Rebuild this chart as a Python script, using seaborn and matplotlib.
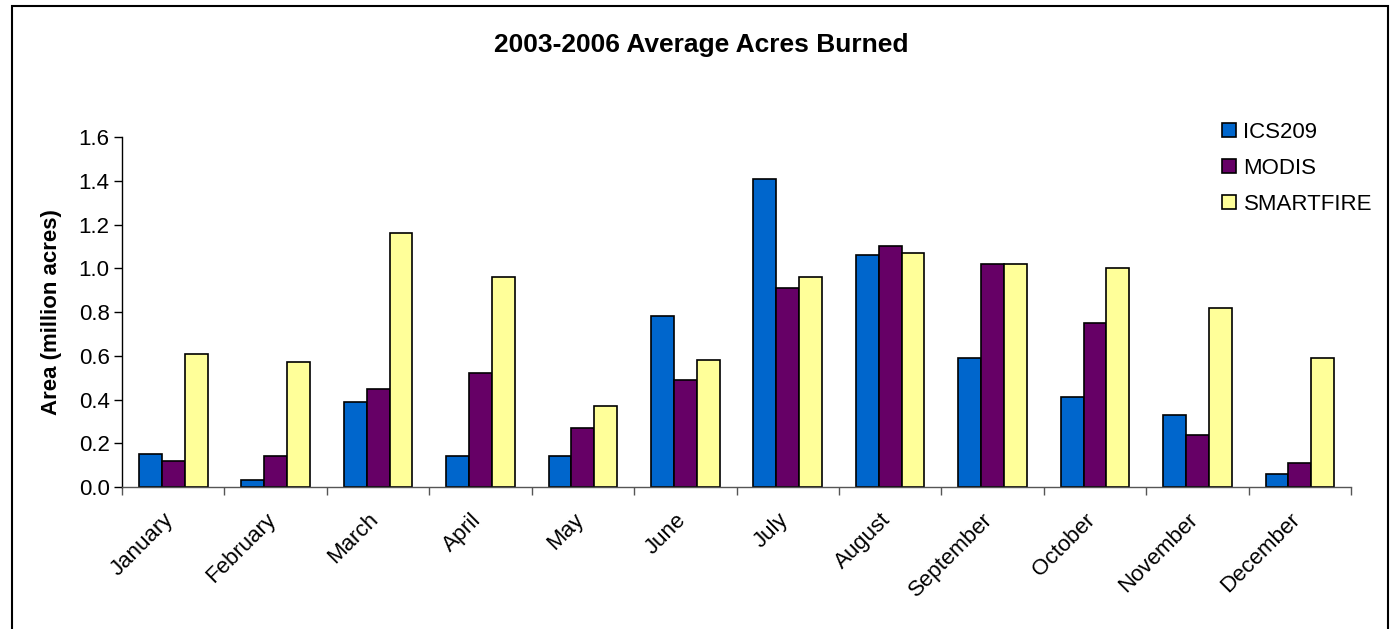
import pandas as pd
import matplotlib.pyplot as plt
import seaborn as sns
from matplotlib.patches import Rectangle
from matplotlib.transforms import ScaledTranslation

months = ['January', 'February', 'March', 'April', 'May', 'June', 'July',
          'August', 'September', 'October', 'November', 'December']
ics209 = [0.15, 0.03, 0.39, 0.14, 0.14, 0.78, 1.41, 1.06, 0.59, 0.41, 0.33, 0.06]
modis = [0.12, 0.14, 0.45, 0.52, 0.27, 0.49, 0.91, 1.10, 1.02, 0.75, 0.24, 0.11]
smartfire = [0.61, 0.57, 1.16, 0.96, 0.37, 0.58, 0.96, 1.07, 1.02, 1.00, 0.82, 0.59]
sources = ['ICS209', 'MODIS', 'SMARTFIRE']
colors = ['#0066CC', '#660066', '#FFFF99']

df = pd.DataFrame({'month': months, 'ICS209': ics209, 'MODIS': modis, 'SMARTFIRE': smartfire})
df_long = df.melt(id_vars='month', var_name='source', value_name='area')

sns.set_style('white')
plt.rcParams['font.family'] = ['Liberation Sans', 'DejaVu Sans']
plt.rcParams['text.color'] = 'black'
plt.rcParams['xtick.color'] = 'black'
plt.rcParams['ytick.color'] = 'black'
plt.rcParams['axes.labelcolor'] = 'black'

fig = plt.figure(figsize=(13.95, 6.29), dpi=100)
ax = fig.add_axes([0.0875, 0.2257, 0.881, 0.5565])

sns.barplot(data=df_long, x='month', y='area', hue='source', order=months,
            hue_order=sources, palette=colors, width=0.67, gap=0,
            edgecolor='black', linewidth=1.2, saturation=1, ax=ax)

ax.set_xlim(-0.5, 11.5)
ax.set_ylim(0, 1.6)
ax.set_yticks([0, 0.2, 0.4, 0.6, 0.8, 1.0, 1.2, 1.4, 1.6])
ax.set_yticklabels([f'{v:.1f}' for v in ax.get_yticks()], fontsize=16)
ax.set_xticks(range(12))
ax.set_xticklabels(months, fontsize=16, rotation=45, ha='right', rotation_mode='anchor')
ax.set_xticks([i - 0.5 for i in range(13)], minor=True)
ax.tick_params(axis='x', which='major', length=0, pad=16)
ax.tick_params(axis='x', which='minor', length=6, width=1, color='#555555', direction='out', bottom=True)
ax.tick_params(axis='y', length=6, width=1, color='black', direction='out', left=True, pad=3)
# nudge the month names a bit left, like the Excel original
for lab in ax.get_xticklabels():
    lab.set_transform(lab.get_transform() + ScaledTranslation(-10 / 100, 0, fig.dpi_scale_trans))

ax.set_xlabel('')
ax.set_ylabel('Area (million acres)', fontsize=16, fontweight='bold', labelpad=12)

for s in ['top', 'right']:
    ax.spines[s].set_visible(False)
ax.spines['left'].set_color('black')
ax.spines['bottom'].set_color('#555555')
ax.spines['left'].set_linewidth(1)
ax.spines['bottom'].set_linewidth(1)

handles, labels = ax.get_legend_handles_labels()
ax.legend(handles, labels, loc='upper right', bbox_to_anchor=(0.9835, 0.806),
          bbox_transform=fig.transFigure, frameon=False, fontsize=16,
          handlelength=0.6, handleheight=0.6, handletextpad=0.35,
          labelspacing=0.68, borderpad=0, borderaxespad=0)

fig.text(0.503, 0.928, '2003-2006 Average Acres Burned', ha='center', va='center',
         fontsize=19, fontweight='bold')

# border round the whole chart (open at the bottom like the reference)
fig.patches.append(Rectangle((12 / 1395, -0.02), 1376 / 1395, 1.02 - 6 / 629,
                             transform=fig.transFigure, fill=False,
                             edgecolor='black', linewidth=1.5))

fig.savefig('out.png', dpi=100)
